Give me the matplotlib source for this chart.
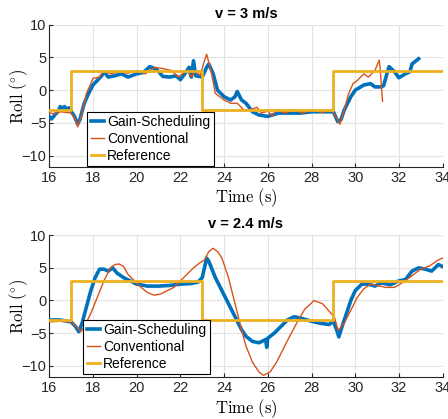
import numpy as np
import matplotlib.pyplot as plt

plt.rcParams['font.family'] = ['Liberation Sans', 'DejaVu Sans']
plt.rcParams['mathtext.fontset'] = 'cm'

# reference step signal (same in both runs)
ref_t = [16, 17, 23, 29, 34]
ref_v = [-3, 3, -3, 3, 3]

# v = 3 m/s
gs3_t = [16.0, 16.1, 16.2, 16.3, 16.4, 16.5, 16.6, 16.7, 16.8, 16.9, 17.0, 17.15, 17.3, 17.4, 17.6, 17.8,
         18.0, 18.2, 18.4, 18.5, 18.7, 19.0, 19.3, 19.6, 20.0, 20.3, 20.6, 20.9, 21.2, 21.5, 21.8, 22.0,
         22.2, 22.4, 22.5, 22.6, 22.7, 23.0, 23.2, 23.3, 23.5, 23.7, 24.0, 24.3, 24.5, 24.6, 24.8, 25.0,
         25.3, 25.6, 26.0, 26.5, 27.0, 27.5, 28.0, 28.5, 29.0, 29.2, 29.35, 29.5, 29.8, 30.0, 30.4, 30.7,
         30.9, 31.2, 31.3, 31.45, 31.55, 31.8, 32.0, 32.3, 32.5, 32.6, 32.9]
gs3_v = [-4.0, -4.4, -4.0, -3.6, -3.3, -2.5, -2.8, -2.5, -2.9, -2.7, -3.2, -4.0, -5.2, -4.5, -2.0, -0.5,
         0.8, 1.5, 2.2, 2.8, 2.0, 2.2, 2.5, 2.0, 2.5, 2.7, 3.6, 3.2, 2.1, 2.0, 2.2, 1.6,
         2.5, 3.5, 2.0, 4.5, 2.2, 2.0, 3.5, 4.0, 2.5, 0.0, -1.0, -1.5, -1.0, -0.2, -1.5, -2.0,
         -3.3, -3.8, -4.0, -3.5, -3.5, -3.5, -3.3, -3.3, -3.3, -4.8, -4.5, -3.0, -1.0, 0.0, 0.8, 1.0,
         0.5, 0.5, 0.7, 2.5, 3.6, 2.8, 1.9, 2.5, 2.8, 4.0, 4.8]
cv3_t = [16.0, 16.3, 16.5, 16.8, 17.0, 17.2, 17.3, 17.5, 17.7, 17.9, 18.0, 18.3, 18.5, 18.8, 19.2, 19.6,
         20.0, 20.4, 20.8, 21.2, 21.6, 21.9, 22.3, 22.5, 22.7, 22.9, 23.1, 23.2, 23.4, 23.6, 23.8, 24.0,
         24.3, 24.6, 24.9, 25.2, 25.5, 25.7, 26.0, 26.2, 26.4, 26.8, 27.2, 27.6, 28.0, 28.5, 28.9, 29.1,
         29.3, 29.5, 29.7, 29.9, 30.1, 30.4, 30.6, 30.9, 31.1, 31.15, 31.25]
cv3_v = [-3.5, -3.6, -3.3, -3.4, -3.5, -4.5, -5.6, -3.5, -0.5, 1.0, 1.8, 2.0, 3.0, 2.5, 2.8, 2.6,
         3.0, 2.5, 3.5, 3.3, 3.0, 2.0, 3.0, 2.0, 3.0, 2.2, 4.5, 5.5, 3.0, -0.5, -1.0, -1.5,
         -2.0, -2.0, -3.0, -3.0, -2.6, -3.5, -3.2, -4.0, -3.0, -3.5, -3.0, -3.5, -3.0, -3.4, -3.0, -4.0,
         -5.2, -3.0, -0.5, 1.0, 1.5, 2.5, 2.0, 3.0, 4.6, 3.0, -1.7]

# v = 2.4 m/s
gs24_t = [16.0, 16.5, 17.0, 17.2, 17.35, 17.5, 17.7, 17.9, 18.1, 18.3, 18.5, 18.7, 18.9, 19.1, 19.4, 19.7,
          20.0, 20.5, 21.0, 21.5, 22.0, 22.5, 22.8, 23.0, 23.2, 23.3, 23.6, 23.9, 24.2, 24.5, 24.8, 25.0,
          25.3, 25.6, 25.9, 25.95, 26.0, 26.3, 26.6, 26.9, 27.2, 27.6, 28.0, 28.4, 28.8, 29.0, 29.15, 29.25,
          29.4, 29.6, 29.8, 30.0, 30.3, 30.6, 30.9, 31.2, 31.6, 32.0, 32.3, 32.6, 32.9, 33.2, 33.5, 33.8, 34.0]
gs24_v = [-3.0, -3.0, -3.3, -4.0, -4.8, -3.5, -1.0, 1.5, 3.5, 4.8, 4.8, 4.5, 5.0, 4.2, 3.5, 3.0,
          2.5, 2.2, 2.2, 2.3, 2.5, 2.6, 2.8, 3.5, 6.5, 6.0, 3.5, 1.5, -0.5, -2.5, -4.5, -5.5,
          -6.3, -6.5, -6.0, -7.2, -5.8, -5.0, -4.0, -3.0, -2.5, -2.8, -3.2, -3.5, -3.7, -3.2, -4.5, -5.6,
          -4.0, -2.0, 0.0, 1.5, 2.5, 2.5, 2.2, 2.7, 2.4, 3.0, 3.2, 4.5, 5.0, 4.8, 4.5, 5.5, 5.2]
cv24_t = [16.0, 16.5, 17.0, 17.3, 17.45, 17.6, 17.9, 18.2, 18.5, 18.8, 19.0, 19.2, 19.4, 19.6, 19.9, 20.2,
          20.5, 20.8, 21.1, 21.4, 21.7, 22.0, 22.3, 22.6, 22.9, 23.1, 23.3, 23.5, 23.7, 23.9, 24.2, 24.5,
          24.8, 25.0, 25.3, 25.6, 25.8, 26.1, 26.4, 26.7, 27.0, 27.4, 27.7, 28.0, 28.1, 28.5, 28.9, 29.05,
          29.22, 29.5, 29.8, 30.1, 30.4, 30.7, 31.0, 31.4, 31.8, 32.2, 32.6, 33.0, 33.4, 33.8, 34.0]
cv24_v = [-3.3, -3.2, -3.3, -4.2, -4.8, -4.0, -2.0, 0.5, 3.0, 5.0, 5.5, 5.6, 5.2, 4.0, 3.0, 2.0,
          1.2, 0.8, 1.0, 1.5, 2.0, 3.0, 4.0, 5.0, 5.8, 6.2, 7.5, 8.0, 7.5, 6.5, 3.5, -0.5,
          -4.5, -7.0, -9.5, -11.0, -11.5, -11.0, -9.5, -7.5, -5.5, -3.0, -1.3, -0.4, 0.0, -0.5, -2.0, -2.6,
          -4.6, -3.5, -1.5, 0.5, 1.8, 2.5, 2.3, 2.0, 2.0, 2.8, 3.8, 4.8, 5.3, 6.2, 6.5]

blue = '#0072BD'
orange = '#D95319'
yellow = '#EDB120'
dark = '#262626'

fig = plt.figure(figsize=(4.48, 4.19), dpi=100)
ax1 = fig.add_axes([0.110, 0.602, 0.878, 0.339])
ax2 = fig.add_axes([0.110, 0.0995, 0.878, 0.339])

panels = [(ax1, 'v = 3 m/s', gs3_t, gs3_v, cv3_t, cv3_v, (-11.7, 10), (0.096, 0.005)),
          (ax2, 'v = 2.4 m/s', gs24_t, gs24_v, cv24_t, cv24_v, (-11.8, 10), (0.086, 0.023))]

for ax, title, gt, gv, ct, cv, ylim, legpos in panels:
    ax.plot(gt, gv, color=blue, lw=2.6, label='Gain-Scheduling', zorder=3)
    ax.plot(ct, cv, color=orange, lw=1.0, label='Conventional', zorder=4)
    ax.step(ref_t, ref_v, where='post', color=yellow, lw=2.0, label='Reference', zorder=5)
    ax.set_xlim(16, 34)
    ax.set_ylim(*ylim)
    ax.set_xticks(np.arange(16, 35, 2))
    ax.set_yticks([-10, -5, 0, 5, 10])
    ax.grid(True, color='#e3e3e3', lw=0.8)
    ax.set_axisbelow(True)
    for s in ['top', 'right']:
        ax.spines[s].set_visible(False)
    for s in ['left', 'bottom']:
        ax.spines[s].set_color(dark)
        ax.spines[s].set_linewidth(0.8)
    ax.tick_params(direction='in', length=3, width=0.8, colors=dark, labelsize=10.5)
    ax.tick_params(axis='y', pad=2)
    ax.tick_params(axis='x', pad=3)
    ax.set_title(title, fontsize=10.5, fontweight='bold', color='black', pad=5)
    ax.set_xlabel(r'$\mathrm{Time\ (s)}$', fontsize=12, labelpad=1)
    ax.set_ylabel(r'$\mathrm{Roll\ (^{\circ})}$', fontsize=12)
    ax.yaxis.set_label_coords(-0.05, 0.5)
    leg = ax.legend(loc='lower left', bbox_to_anchor=legpos, fontsize=10, fancybox=False,
                    framealpha=1, edgecolor='black', handlelength=1.0, handletextpad=0.2,
                    labelspacing=0.2, borderpad=0.25, borderaxespad=0)
    leg.get_frame().set_linewidth(0.8)

fig.savefig('out.png', dpi=100)
